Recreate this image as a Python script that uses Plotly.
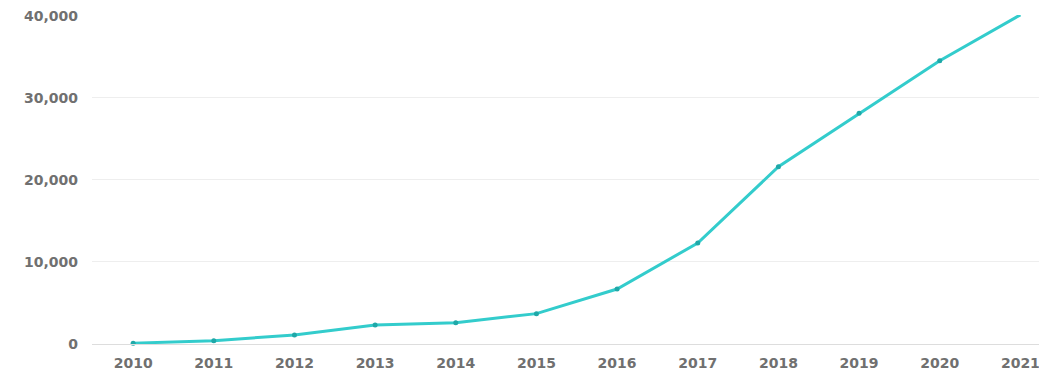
import plotly.graph_objects as go

years = [2010, 2011, 2012, 2013, 2014, 2015, 2016, 2017, 2018, 2019, 2020, 2021]
values = [100, 400, 1100, 2300, 2600, 3700, 6700, 12300, 21600, 28100, 34500, 40100]
y_ticks = [0, 10000, 20000, 30000, 40000]
y_labels = ["0", "10,000", "20,000", "30,000", "40,000"]

fig = go.Figure(go.Scatter(
    x=years, y=values, mode="lines+markers",
    line=dict(color="#33cccc", width=3),
    marker=dict(color="#1fa8a8", size=5),
    cliponaxis=False,
))

fig.update_layout(
    width=1047, height=373,
    margin=dict(l=84, r=8, t=7, b=37, autoexpand=False),
    paper_bgcolor="white", plot_bgcolor="white",
    showlegend=False,
    font=dict(family="DejaVu Sans", size=14, color="#707070", weight=600),
)
fig.update_xaxes(
    range=[2009.49, 2021.33], tickmode="array", tickvals=years,
    ticktext=[str(y) for y in years], showgrid=False, zeroline=False,
    showline=True, linecolor="#dddddd", linewidth=1, ticks="",
    ticklabelstandoff=6, automargin=False,
)
fig.update_yaxes(
    range=[0, 40080], tickmode="array", tickvals=y_ticks, ticktext=y_labels,
    showgrid=True, gridcolor="#eeeeee", zeroline=False, ticks="",
    ticklabelstandoff=13, ticklabeloverflow="allow", automargin=False,
)

fig.write_html("out.html")
